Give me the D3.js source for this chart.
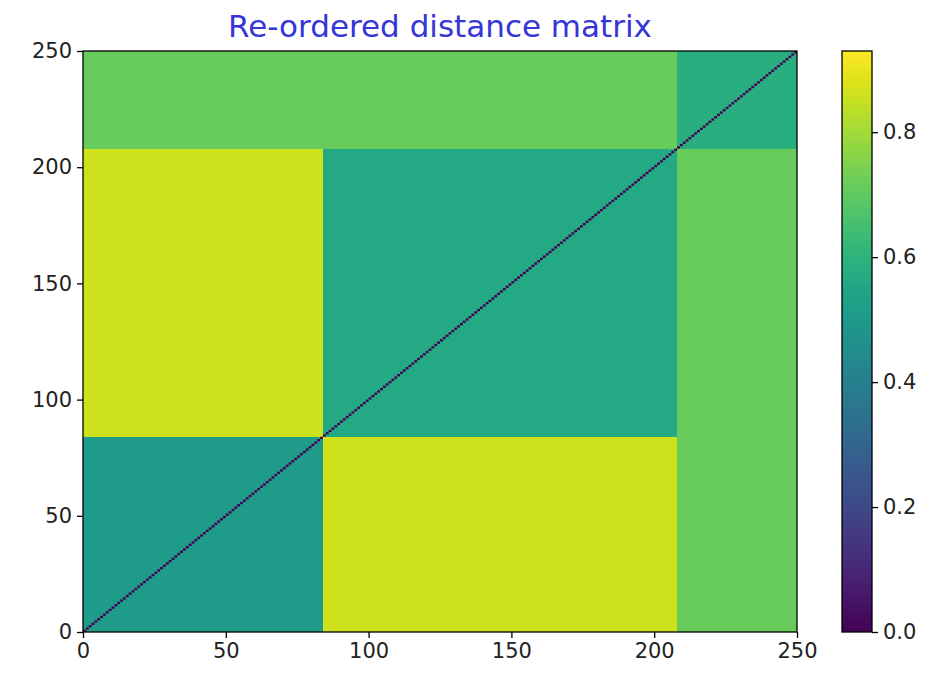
<!DOCTYPE html>
<html>
<head>
<meta charset="utf-8">
<script src="https://cdn.jsdelivr.net/npm/d3@7"></script>
<style>
  body { margin: 0; background: #fff; }
  svg text { font-family: "DejaVu Sans", sans-serif; }
</style>
</head>
<body>
<svg id="chart" width="932" height="681"></svg>
<script>
// matrix size and cluster boundaries (row/col index where each cluster starts/ends)
const nPoints = 250;
const clusterBounds = [0, 84, 208, 250];
// mean distance between clusters
const blockMeans = [
  [0.51, 0.86, 0.715],
  [0.86, 0.56, 0.715],
  [0.715, 0.715, 0.585]
];
const diagonalValue = 0;
const colorMax = 0.93;
const axisTicks = [0, 50, 100, 150, 200, 250];
const colorTicks = [0, 0.2, 0.4, 0.6, 0.8];

const svg = d3.select('#chart');
const plot = { left: 83, right: 797, top: 51, bottom: 632 };

const x = d3.scaleLinear().domain([0, nPoints]).range([plot.left, plot.right]);
const y = d3.scaleLinear().domain([0, nPoints]).range([plot.bottom, plot.top]);
const color = d3.scaleSequential(d3.interpolateViridis).domain([0, colorMax]);

// blocks
const blocks = [];
blockMeans.forEach((row, i) => {
  row.forEach((v, j) => {
    blocks.push({ x0: clusterBounds[j], x1: clusterBounds[j + 1],
                  y0: clusterBounds[i], y1: clusterBounds[i + 1], v: v });
  });
});

svg.append('g')
  .selectAll('rect')
  .data(blocks)
  .enter()
  .append('rect')
  .attr('x', (d) => x(d.x0))
  .attr('y', (d) => y(d.y1))
  .attr('width', (d) => x(d.x1) - x(d.x0))
  .attr('height', (d) => y(d.y0) - y(d.y1))
  .attr('fill', (d) => color(d.v))
  .attr('shape-rendering', 'crispEdges');

// zero distance on the diagonal
svg.append('g')
  .selectAll('rect')
  .data(d3.range(nPoints))
  .enter()
  .append('rect')
  .attr('x', (d) => x(d))
  .attr('y', (d) => y(d + 1))
  .attr('width', (d) => x(d + 1) - x(d))
  .attr('height', (d) => y(d) - y(d + 1))
  .attr('fill', color(diagonalValue));

// axes
const xAxis = svg.append('g')
  .attr('transform', 'translate(0,' + plot.bottom + ')')
  .call(d3.axisBottom(x).tickValues(axisTicks).tickSize(6).tickPadding(5));
const yAxis = svg.append('g')
  .attr('transform', 'translate(' + plot.left + ',0)')
  .call(d3.axisLeft(y).tickValues(axisTicks).tickSize(6).tickPadding(5));

[xAxis, yAxis].forEach((g) => {
  g.select('.domain').remove();
  g.selectAll('line').attr('stroke', '#000').attr('stroke-width', 1.3);
  g.selectAll('text').attr('font-size', 21).attr('fill', '#222')
    .attr('font-family', '"DejaVu Sans", sans-serif');
});

svg.append('rect')
  .attr('x', plot.left).attr('y', plot.top)
  .attr('width', plot.right - plot.left).attr('height', plot.bottom - plot.top)
  .attr('fill', 'none').attr('stroke', '#000').attr('stroke-width', 1.3);

// title
svg.append('text')
  .attr('x', (plot.left + plot.right) / 2)
  .attr('y', 37)
  .attr('text-anchor', 'middle')
  .attr('font-size', 31)
  .attr('fill', '#3535d8')
  .text('Re-ordered distance matrix');

// colorbar
const cb = { left: 842, right: 872, top: 51, bottom: 632 };
const cy = d3.scaleLinear().domain([0, colorMax]).range([cb.bottom, cb.top]);

const grad = svg.append('defs').append('linearGradient')
  .attr('id', 'cbgrad')
  .attr('x1', 0).attr('y1', 1).attr('x2', 0).attr('y2', 0);
grad.selectAll('stop')
  .data(d3.range(0, 1.0001, 0.05))
  .enter()
  .append('stop')
  .attr('offset', (d) => d)
  .attr('stop-color', (d) => color(d * colorMax));

svg.append('rect')
  .attr('x', cb.left).attr('y', cb.top)
  .attr('width', cb.right - cb.left).attr('height', cb.bottom - cb.top)
  .attr('fill', 'url(#cbgrad)')
  .attr('stroke', '#000').attr('stroke-width', 1.3);

const cAxis = svg.append('g')
  .attr('transform', 'translate(' + cb.right + ',0)')
  .call(d3.axisRight(cy).tickValues(colorTicks).tickFormat(d3.format('.1f')).tickSize(6).tickPadding(5));
cAxis.select('.domain').remove();
cAxis.selectAll('line').attr('stroke', '#000').attr('stroke-width', 1.3);
cAxis.selectAll('text').attr('font-size', 21).attr('fill', '#222')
  .attr('font-family', '"DejaVu Sans", sans-serif');
</script>
</body>
</html>
